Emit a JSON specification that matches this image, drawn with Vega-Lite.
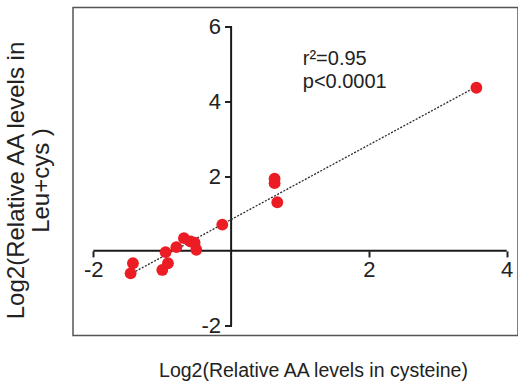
{
  "$schema": "https://vega.github.io/schema/vega-lite/v6.json",
  "width": 445,
  "height": 328,
  "autosize": {"type": "none"},
  "padding": {"left": 73, "top": 7.5, "right": 0, "bottom": 49.5},
  "background": "white",
  "config": {
    "view": {"stroke": "#555555", "strokeWidth": 1.5},
    "font": "Liberation Sans, Arial, sans-serif"
  },
  "datasets": {
    "points": [
      {"x": -1.425, "y": -0.33},
      {"x": -1.459, "y": -0.6},
      {"x": -0.951, "y": -0.035},
      {"x": -0.917, "y": -0.33},
      {"x": -0.999, "y": -0.51},
      {"x": -0.795, "y": 0.1},
      {"x": -0.685, "y": 0.34},
      {"x": -0.588, "y": 0.25},
      {"x": -0.53, "y": 0.22},
      {"x": -0.505, "y": 0.03},
      {"x": -0.128, "y": 0.7},
      {"x": 0.631, "y": 1.93},
      {"x": 0.631, "y": 1.81},
      {"x": 0.67, "y": 1.3},
      {"x": 3.56, "y": 4.36}
    ],
    "fit": [
      {"x": -1.43, "y": -0.59},
      {"x": 3.56, "y": 4.39}
    ],
    "axislines": [
      {"x": -2, "x2": 4, "y": 0, "y2": 0},
      {"x": 0, "x2": 0, "y": -2, "y2": 6}
    ],
    "notes": [
      {"x": 1.04, "y": 4.97, "label": "r²=0.95"},
      {"x": 1.04, "y": 4.35, "label": "p<0.0001"}
    ]
  },
  "encoding": {
    "x": {
      "field": "x",
      "type": "quantitative",
      "scale": {"domain": [-2.295, 4.164], "nice": false, "zero": false},
      "axis": {
        "values": [-2, 2, 4],
        "labelExpr": "datum.value < 0 ? '-' + abs(datum.value) : '' + datum.value",
        "offset": -84.6,
        "domain": false,
        "grid": false,
        "tickSize": 6,
        "tickWidth": 2,
        "tickColor": "#222222",
        "labelFontSize": 22,
        "labelPadding": 3,
        "labelColor": "#222222",
        "title": "Log2(Relative AA levels in cysteine)",
        "titleFontSize": 19.5,
        "titleFontWeight": "normal",
        "titleColor": "#222222",
        "titleX": 240,
        "titleY": 126,
        "titleAlign": "center",
        "titleBaseline": "alphabetic"
      }
    },
    "y": {
      "field": "y",
      "type": "quantitative",
      "scale": {"domain": [-2.262, 6.505], "nice": false, "zero": false},
      "axis": {
        "values": [-2, 2, 4, 6],
        "labelExpr": "datum.value < 0 ? '-' + abs(datum.value) : '' + datum.value",
        "offset": -158.5,
        "domain": false,
        "grid": false,
        "tickSize": 7,
        "tickWidth": 2,
        "tickColor": "#222222",
        "labelFontSize": 22,
        "labelPadding": 4,
        "labelColor": "#222222",
        "title": ["Log2(Relative AA levels in", "Leu+cys )"],
        "titleFontSize": 24,
        "titleFontWeight": "normal",
        "titleColor": "#222222",
        "titleLineHeight": 25,
        "titleAngle": 270,
        "titleX": -208.5,
        "titleY": 172.5,
        "titleAlign": "center",
        "titleBaseline": "alphabetic"
      }
    }
  },
  "layer": [
    {
      "data": {"name": "axislines"},
      "mark": {"type": "rule", "color": "#1a1a1a", "strokeWidth": 2},
      "encoding": {
        "x2": {"field": "x2"},
        "y2": {"field": "y2"}
      }
    },
    {
      "data": {"name": "fit"},
      "mark": {"type": "line", "color": "#2a2a2a", "strokeWidth": 1.3, "strokeDash": [2, 1.5]},
      "encoding": {}
    },
    {
      "data": {"name": "points"},
      "mark": {"type": "circle", "color": "#ec1c24", "opacity": 1, "size": 140},
      "encoding": {}
    },
    {
      "data": {"name": "notes"},
      "mark": {"type": "text", "align": "left", "baseline": "alphabetic", "fontSize": 20, "color": "#222222"},
      "encoding": {"text": {"field": "label"}}
    }
  ]
}
